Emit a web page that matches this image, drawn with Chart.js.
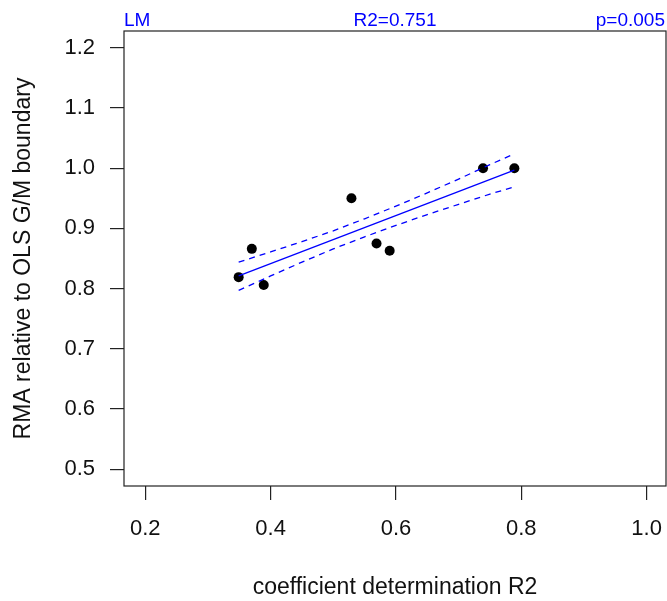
<!DOCTYPE html>
<html>
<head>
<meta charset="utf-8">
<script src="https://cdn.jsdelivr.net/npm/chart.js@4"></script>
<style>
  body { margin: 0; background: #fff; }
  #wrap { width: 667px; height: 601px; }
</style>
</head>
<body>
<div id="wrap"><canvas id="grafico" width="667" height="601"></canvas></div>
<script>
// Datos
const puntosX = [0.349, 0.370, 0.389, 0.529, 0.569, 0.590, 0.739, 0.789];
const puntosY = [0.819, 0.866, 0.806, 0.950, 0.875, 0.863, 1.000, 1.000];

// Recta de regresion (extremos)
const rectaX = [0.349, 0.789];
const rectaY = [0.821, 0.997];

// Bandas discontinuas
const bandaX = [0.349, 0.40, 0.45, 0.50, 0.55, 0.60, 0.65, 0.70, 0.75, 0.789];
const bandaSup = [0.844, 0.861, 0.878, 0.896, 0.916, 0.937, 0.959, 0.982, 1.006, 1.024];
const bandaInf = [0.797, 0.821, 0.844, 0.866, 0.886, 0.905, 0.923, 0.940, 0.957, 0.969];

const ticksX = [0.2, 0.4, 0.6, 0.8, 1.0];
const ticksY = [0.5, 0.6, 0.7, 0.8, 0.9, 1.0, 1.1, 1.2];

const textoArriba = ["LM", "R2=0.751", "p=0.005"];
const tituloX = "coefficient determination R2";
const tituloY = "RMA relative to OLS G/M boundary";

const fuente = "'Liberation Sans', Arial, sans-serif";

function pares(xs, ys) {
    return xs.map((x, i) => ({ x: x, y: ys[i] }));
}

// Caja alrededor del area y textos en azul arriba
const cajaYTextos = {
    id: "cajaYTextos",
    afterDraw(chart) {
        const ctx = chart.ctx;
        const a = chart.chartArea;
        ctx.save();
        ctx.strokeStyle = "#222";
        ctx.lineWidth = 1.2;
        ctx.strokeRect(a.left, a.top, a.right - a.left, a.bottom - a.top);
        ctx.fillStyle = "#0000ff";
        ctx.font = "19px " + fuente;
        ctx.textBaseline = "alphabetic";
        ctx.textAlign = "left";
        ctx.fillText(textoArriba[0], a.left, 26);
        ctx.textAlign = "center";
        ctx.fillText(textoArriba[1], (a.left + a.right) / 2, 26);
        ctx.textAlign = "right";
        ctx.fillText(textoArriba[2], a.right - 1, 26);
        ctx.restore();
    }
};

function inicializarGrafico() {
    const ctx = document.getElementById("grafico").getContext("2d");
    const linea = { borderColor: "#0000ff", borderWidth: 1.3, pointRadius: 0, showLine: true, fill: false, tension: 0 };

    new Chart(ctx, {
        type: "scatter",
        data: {
            datasets: [
                Object.assign({ data: pares(rectaX, rectaY) }, linea),
                Object.assign({ data: pares(bandaX, bandaSup), borderDash: [6, 5] }, linea),
                Object.assign({ data: pares(bandaX, bandaInf), borderDash: [6, 5] }, linea),
                {
                    data: pares(puntosX, puntosY),
                    backgroundColor: "#000",
                    borderColor: "#000",
                    pointRadius: 5,
                    borderWidth: 0
                }
            ]
        },
        options: {
            responsive: false,
            animation: false,
            layout: { autoPadding: false, padding: { top: 31, right: 1, left: 0, bottom: 0 } },
            plugins: { legend: { display: false }, tooltip: { enabled: false } },
            scales: {
                x: {
                    type: "linear",
                    min: 0.166,
                    max: 1.031,
                    afterBuildTicks: (s) => { s.ticks = ticksX.map(v => ({ value: v })); },
                    afterFit: (s) => { s.height = 115; s.paddingLeft = 0; s.paddingRight = 0; },
                    border: { display: false },
                    grid: { drawOnChartArea: false, drawTicks: true, tickLength: 14, color: "#222", lineWidth: 1.2 },
                    ticks: {
                        padding: 16,
                        color: "#111",
                        font: { family: fuente, size: 22 },
                        maxRotation: 0,
                        callback: (v) => Number(v).toFixed(1)
                    },
                    title: {
                        display: true,
                        text: tituloX,
                        color: "#111",
                        font: { family: fuente, size: 23 },
                        padding: { top: 0, bottom: 0 }
                    }
                },
                y: {
                    type: "linear",
                    min: 0.472,
                    max: 1.228,
                    afterBuildTicks: (s) => { s.ticks = ticksY.map(v => ({ value: v })); },
                    afterFit: (s) => { s.width = 124; s.paddingTop = 0; s.paddingBottom = 0; },
                    border: { display: false },
                    grid: { drawOnChartArea: false, drawTicks: true, tickLength: 14, color: "#222", lineWidth: 1.2 },
                    ticks: {
                        padding: 15,
                        color: "#111",
                        font: { family: fuente, size: 22 },
                        callback: (v) => Number(v).toFixed(1)
                    },
                    title: {
                        display: true,
                        text: tituloY,
                        color: "#111",
                        font: { family: fuente, size: 23 },
                        padding: { top: 10, bottom: 0 }
                    }
                }
            }
        },
        plugins: [cajaYTextos]
    });
}

inicializarGrafico();
</script>
</body>
</html>
